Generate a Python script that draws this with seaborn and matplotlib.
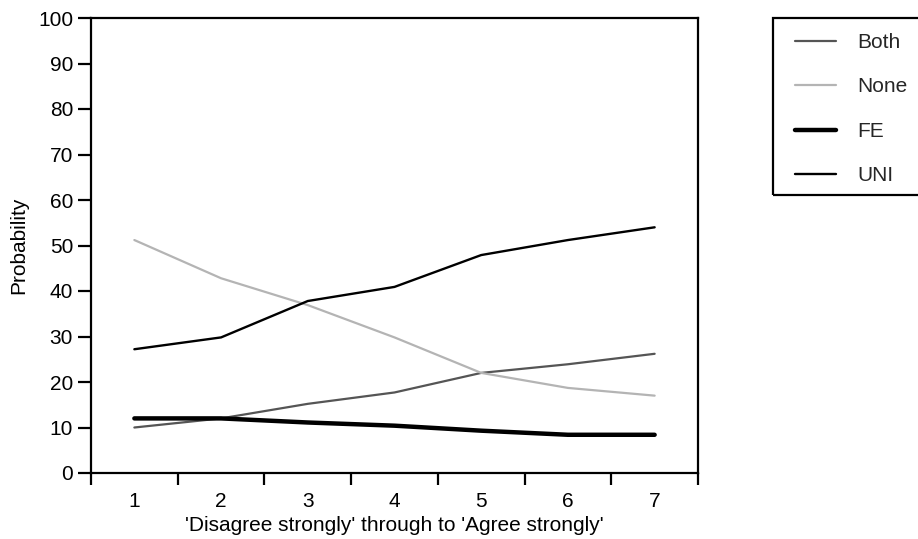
import matplotlib
matplotlib.use("Agg")
import matplotlib.pyplot as plt
from matplotlib.patches import Rectangle
import seaborn as sns
import pandas as pd

categories = [1, 2, 3, 4, 5, 6, 7]
both = [10.0, 12.0, 15.2, 17.7, 22.0, 23.9, 26.2]
none = [51.2, 42.8, 36.9, 29.8, 22.0, 18.7, 17.0]
fe = [12.0, 12.0, 11.1, 10.4, 9.3, 8.4, 8.4]
uni = [27.2, 29.8, 37.8, 40.9, 47.9, 51.2, 54.0]
series_names = ["Both", "None", "FE", "UNI"]
y_ticks = list(range(0, 101, 10))

sns.set_theme(style="white")
plt.rcParams["font.family"] = ["Liberation Sans", "DejaVu Sans"]

df = pd.DataFrame({"x": categories, "Both": both, "None": none, "FE": fe, "UNI": uni})
long = df.melt(id_vars="x", var_name="series", value_name="prob")

styles = {
    "Both": dict(color="#555555", lw=1.6),
    "None": dict(color="#b4b4b4", lw=1.6),
    "FE": dict(color="#000000", lw=3.2),
    "UNI": dict(color="#000000", lw=1.7),
}

fig = plt.figure(figsize=(9.18, 5.39), dpi=100)
ax = fig.add_axes([91 / 918, 1 - 473 / 539, (698 - 91) / 918, (473 - 18) / 539])

for name in series_names:
    sub = long[long["series"] == name]
    sns.lineplot(data=sub, x="x", y="prob", ax=ax, label=name,
                 color=styles[name]["color"], linewidth=styles[name]["lw"],
                 legend=False)

ax.set_xlim(0.5, 7.5)
ax.set_ylim(0, 100)
ax.set_yticks(y_ticks)
ax.set_yticklabels([str(v) for v in y_ticks], fontsize=15)

# bin edges carry the tick marks, category centres carry the labels
ax.set_xticks([c - 0.5 for c in categories] + [categories[-1] + 0.5])
ax.set_xticklabels([])
ax.set_xticks(categories, minor=True)
ax.set_xticklabels([str(c) for c in categories], minor=True, fontsize=15)
ax.tick_params(axis="x", which="major", direction="out", length=8.6, width=1.6,
               color="black", bottom=True)
ax.tick_params(axis="x", which="minor", length=0, pad=14, bottom=True,
               labelcolor="black")
ax.tick_params(axis="y", which="major", direction="out", length=9.4, width=1.6,
               color="black", left=True, pad=3.5, labelcolor="black")

for s in ax.spines.values():
    s.set_visible(True)
    s.set_color("black")
    s.set_linewidth(1.6)

ax.set_xlabel("'Disagree strongly' through to 'Agree strongly'", fontsize=15,
              color="black", labelpad=3)
ax.set_ylabel("Probability", fontsize=15, color="black", labelpad=7)
ax.grid(False)

handles, labels = ax.get_legend_handles_labels()
fig.legend(handles, labels, loc="upper left",
           bbox_to_anchor=(795 / 918, 1 - 33 / 539), frameon=False,
           fontsize=15, handlelength=1.95, handletextpad=1.05, labelspacing=1.22,
           borderaxespad=0, borderpad=0.0)
fig.patches.append(Rectangle((773 / 918, 1 - 195 / 539), 0.3, (195 - 18) / 539,
                             transform=fig.transFigure, fill=False,
                             edgecolor="black", linewidth=1.6, clip_on=False))

fig.savefig("out.png", dpi=100)
